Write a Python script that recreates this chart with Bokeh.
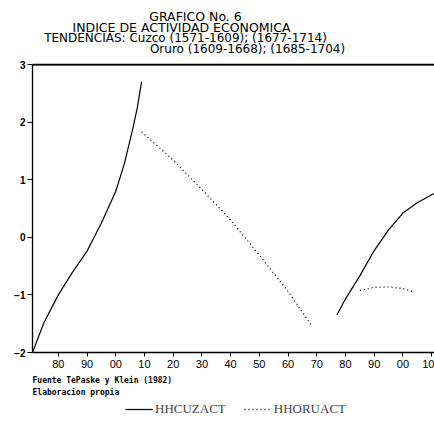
from bokeh.plotting import figure
from bokeh.layouts import column
from bokeh.models import FixedTicker, LinearAxis, Legend, LegendItem, Range1d, Span
from bokeh.core.properties import value
from bokeh.embed import file_html
from bokeh.resources import INLINE

# Data
cuzco1_years = [1571, 1575, 1580, 1585, 1590, 1595, 1600, 1603, 1606, 1607.5, 1609]
cuzco1_vals = [-2.0, -1.48, -1.0, -0.6, -0.24, 0.25, 0.8, 1.28, 1.9, 2.25, 2.7]
oruro1_years = [1609, 1620, 1630, 1640, 1650, 1660, 1668]
oruro1_vals = [1.83, 1.34, 0.83, 0.30, -0.31, -0.94, -1.52]
cuzco2_years = [1677, 1680, 1685, 1690, 1695, 1700, 1705, 1710, 1714]
cuzco2_vals = [-1.35, -1.07, -0.67, -0.23, 0.13, 0.42, 0.60, 0.74, 0.83]
oruro2_years = [1685, 1690, 1695, 1700, 1704]
oruro2_vals = [-0.92, -0.87, -0.86, -0.89, -0.95]

x_ticks = [1580, 1590, 1600, 1610, 1620, 1630, 1640, 1650, 1660, 1670, 1680, 1690, 1700, 1710]
x_tick_labels = ["80", "90", "00", "10", "20", "30", "40", "50", "60", "70", "80", "90", "00", "10"]
y_ticks = [-2, -1, 0, 1, 2, 3]

title_lines = ["GRAFICO No. 6", "INDICE DE ACTIVIDAD ECONOMICA",
               "TENDENCIAS: Cuzco (1571-1609); (1677-1714)",
               "Oruro (1609-1668); (1685-1704)"]
source_lines = ["Fuente TePaske y Klein (1982)", "Elaboracion propia"]
series_names = ["HHCUZACT", "HHORUACT"]

W = 434
LEFT = 32
TOP_H, MAIN_H, BOT_H = 58, 316, 52


def text_panel(h):
    # frames of a column are aligned with the main chart's frame (page x 32..434)
    f = figure(width=W, height=h, output_backend="svg", toolbar_location=None,
               x_range=Range1d(LEFT, W), y_range=Range1d(0, h),
               x_axis_location=None, y_axis_location=None,
               min_border_left=LEFT, min_border_right=0, min_border_top=0, min_border_bottom=0)
    f.outline_line_color = None
    f.xgrid.visible = False
    f.ygrid.visible = False
    f.background_fill_alpha = 0
    f.border_fill_alpha = 0
    return f


# ---- title block ----
pt = text_panel(TOP_H)
tfont = value("DejaVu Sans")
pt.text(x=[195, 181], y=[TOP_H - 16, TOP_H - 27], text=title_lines[:2], text_align="center",
        text_baseline="middle", text_font=tfont, text_font_size="12.5px", text_color="black")
pt.text(x=[185, 247], y=[TOP_H - 37, TOP_H - 48], text=title_lines[2:], text_align="center",
        text_baseline="middle", text_font=tfont, text_font_size="12px", text_color="black")

# ---- main chart ----
p = figure(width=W, height=MAIN_H, output_backend="svg", toolbar_location=None,
           x_range=Range1d(1571, 1711), y_range=Range1d(-2, 3),
           min_border_left=LEFT, min_border_right=0, min_border_top=6, min_border_bottom=22)
p.outline_line_color = None
p.xgrid.visible = False
p.ygrid.visible = False

c1 = p.line(cuzco1_years, cuzco1_vals, line_color="black", line_width=1.2)
o1 = p.line(oruro1_years, oruro1_vals, line_color="black", line_width=1.3, line_dash="1 3")
p.line(cuzco2_years, cuzco2_vals, line_color="black", line_width=1.2)
p.line(oruro2_years, oruro2_vals, line_color="black", line_width=1.3, line_dash="1 3")

xa = p.xaxis[0]
xa.ticker = FixedTicker(ticks=x_ticks)
xa.major_label_overrides = {t: l for t, l in zip(x_ticks, x_tick_labels)}
xa.minor_tick_line_color = None
xa.major_tick_out = 4
xa.major_tick_in = 0
xa.major_label_standoff = 3
xa.major_label_text_font = "Liberation Sans"
xa.major_label_text_font_size = "11px"
xa.major_label_text_color = "black"
xa.axis_line_width = 1.3

ya = p.yaxis[0]
ya.ticker = FixedTicker(ticks=y_ticks)
ya.minor_tick_line_color = None
ya.major_tick_out = 5
ya.major_tick_in = 0
ya.major_label_standoff = 2
ya.major_label_text_font = "Liberation Sans"
ya.major_label_text_font_style = "bold"
ya.major_label_text_font_size = "10px"
ya.major_label_text_color = "black"
ya.axis_line_width = 1.3

top = LinearAxis(ticker=FixedTicker(ticks=[]), major_label_text_font_size="0px",
                 major_tick_out=6, major_tick_in=0,
                 major_tick_line_color=None, minor_tick_line_color=None,
                 axis_line_color="black", axis_line_width=1.3)
p.add_layout(top, "above")
p.add_layout(Span(location=3, dimension="width", line_color="black", line_width=2))

# ---- source notes and legend ----
pb = text_panel(BOT_H)
pb.text(x=[LEFT, LEFT], y=[BOT_H - 6, BOT_H - 18], text=source_lines, text_align="left",
        text_baseline="middle", text_font=value("DejaVu Sans Mono"), text_font_style="bold",
        text_font_size="8px", text_color="black")
# legend proxies: the same series on the note panel, outside its visible range
lc = pb.line(cuzco1_years, cuzco1_vals, line_color="black", line_width=1.2)
lo = pb.line(oruro1_years, oruro1_vals, line_color="black", line_width=1.3, line_dash="1 3")
legend = Legend(items=[LegendItem(label=series_names[0], renderers=[lc]),
                       LegendItem(label=series_names[1], renderers=[lo])],
                orientation="horizontal", location=(93, 9),
                border_line_color=None, background_fill_alpha=0,
                glyph_width=28, glyph_height=10, label_standoff=2, spacing=18,
                padding=0, margin=0, label_text_font="Liberation Serif",
                label_text_font_size="13px", label_height=12)
pb.add_layout(legend, "center")

layout = column(pt, p, pb, spacing=0)
open("out.html", "w").write(file_html(layout, INLINE))
